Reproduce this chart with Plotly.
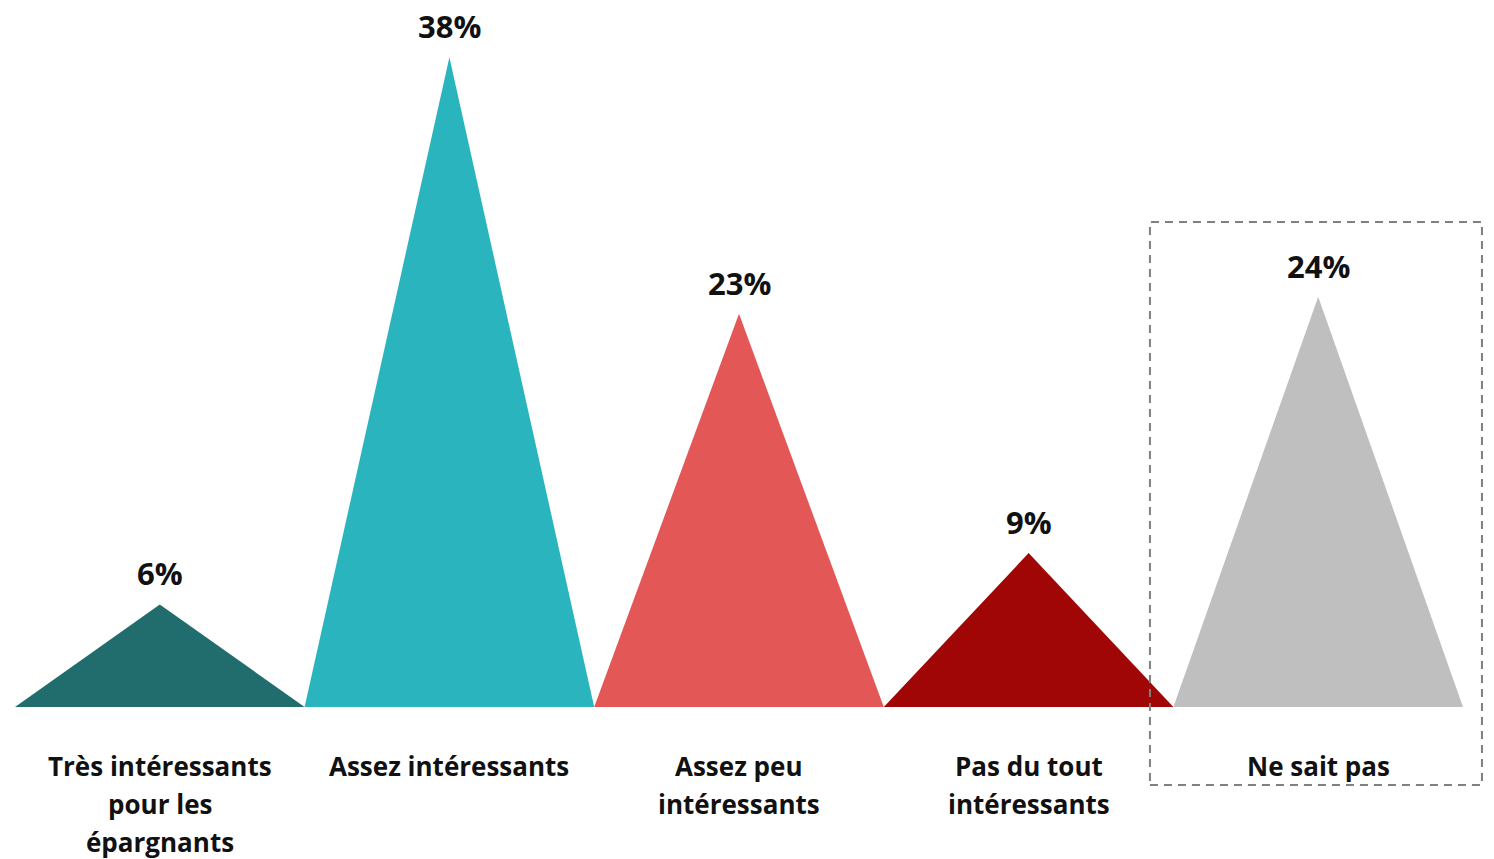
import plotly.graph_objects as go

categories = [
    ["Très intéressants", "pour les", "épargnants"],
    ["Assez intéressants"],
    ["Assez peu", "intéressants"],
    ["Pas du tout", "intéressants"],
    ["Ne sait pas"],
]
values = [6, 38, 23, 9, 24]
colors = ["#216d6e", "#2ab5be", "#e35757", "#a00606", "#bfbfbf"]

FONT = "Open Sans"
TEXT = "#111111"

fig = go.Figure()

for i, (v, c) in enumerate(zip(values, colors)):
    fig.add_trace(go.Scatter(
        x=[i - 0.5, i, i + 0.5, i - 0.5],
        y=[0, v, 0, 0],
        mode="lines",
        fill="toself",
        fillcolor=c,
        line=dict(width=0, color=c),
        hoverinfo="skip",
        showlegend=False,
    ))
    fig.add_annotation(
        x=i, y=v, text=f"<b>{v}%</b>", showarrow=False,
        yanchor="bottom", yshift=9, borderpad=0,
        font=dict(family=FONT, size=31, color=TEXT),
    )
    for j, line in enumerate(categories[i]):
        fig.add_annotation(
            x=i, y=0, text=f"<b>{line}</b>", showarrow=False,
            yanchor="middle", yshift=-59 - 38 * j, borderpad=0,
            font=dict(family=FONT, size=26, color=TEXT),
        )

# dashed frame around "Ne sait pas" (paper coords so it is not clipped)
fig.add_shape(
    type="rect", xref="paper", yref="paper",
    x0=0.7838, x1=1.0131, y0=-0.1147, y1=0.7132,
    line=dict(color="#808080", width=2, dash="8px,6px"),
    fillcolor="rgba(0,0,0,0)", layer="above",
)

fig.update_layout(
    width=1494,
    height=859,
    margin=dict(l=15, r=31, t=27, b=152),
    paper_bgcolor="white",
    plot_bgcolor="white",
    xaxis=dict(range=[-0.5, 4.5], visible=False, fixedrange=True),
    yaxis=dict(range=[0, 39.77], visible=False, fixedrange=True),
)

fig.write_html(
    "out.html",
    config={"displayModeBar": False},
    post_script="document.body.style.margin='0';document.body.style.overflow='hidden';",
)
